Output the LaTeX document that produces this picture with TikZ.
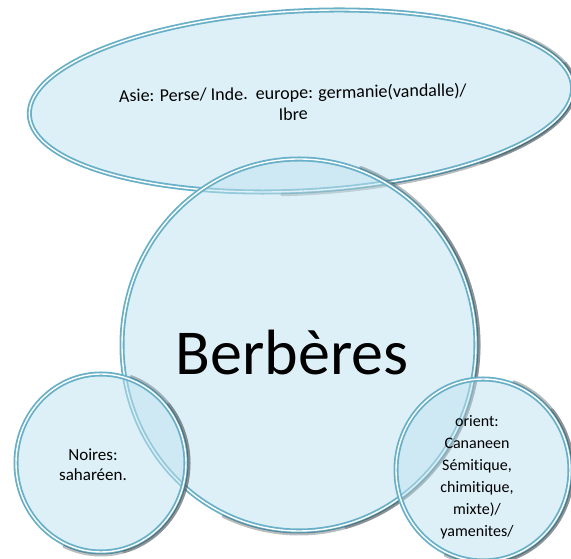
\documentclass[tikz,border=0pt]{standalone}
\usepackage{fontspec}
\setmainfont{Carlito}[Ligatures=NoCommon]
\usetikzlibrary{shapes.geometric}
\definecolor{BubbleFill}{RGB}{190,226,239}
\definecolor{BubbleEdge}{RGB}{104,176,199}
\definecolor{BubbleShade}{RGB}{60,68,72}

\tikzset{
  bubble/.style={ellipse,inner sep=0pt,fill=BubbleFill,fill opacity=0.5,
    draw=BubbleEdge,line width=1.8pt,double=white,double distance=1.4pt},
  bubshade/.style={draw=BubbleShade,line width=3pt,draw opacity=0.35,line cap=round},
  bubtext/.style={align=center,text=black}
}

\begin{document}
\begin{tikzpicture}[x=1pt,y=1pt]
\useasboundingbox (0,0) rectangle (571,559);
\clip (0,0) rectangle (571,559);

% bulle du haut
\node[bubble,minimum width=544pt,minimum height=180pt,rotate=3] (asie) at (301,458) {};
\begin{scope}[shift={(asie.center)},rotate=3]
\draw[bubshade] (40:275 and 93) arc[start angle=40,end angle=-95,x radius=275,y radius=93];
\draw[bubshade] (15:275 and 93) arc[start angle=15,end angle=-50,x radius=275,y radius=93];
\end{scope}

% bulle centrale
\node[bubble,minimum width=354pt,minimum height=372pt] (berb) at (299,214) {};
\draw[bubshade] ([shift={(70:180 and 189)}]berb.center)
  arc[start angle=70,end angle=-115,x radius=180,y radius=189];
\draw[bubshade] ([shift={(40:180 and 189)}]berb.center)
  arc[start angle=40,end angle=-75,x radius=180,y radius=189];

% bulle de gauche
\node[bubble,minimum width=170pt,minimum height=178pt] (noires) at (101,96) {};
\draw[bubshade] ([shift={(70:88 and 92)}]noires.center)
  arc[start angle=70,end angle=-115,x radius=88,y radius=92];
\draw[bubshade] ([shift={(40:88 and 92)}]noires.center)
  arc[start angle=40,end angle=-75,x radius=88,y radius=92];

% bulle de droite
\node[bubble,minimum width=174pt,minimum height=182pt] (orient) at (483,89) {};
\draw[bubshade] ([shift={(70:90 and 94)}]orient.center)
  arc[start angle=70,end angle=-115,x radius=90,y radius=94];
\draw[bubshade] ([shift={(40:90 and 94)}]orient.center)
  arc[start angle=40,end angle=-75,x radius=90,y radius=94];

% textes
\node[bubtext,rotate=1,font=\fontsize{18}{21}\selectfont] (asietxt) at (293,456)
  {Asie: Perse/ Inde.\ \ europe: germanie(vandalle)/\\Ibre};
\node[anchor=base,font=\fontsize{64}{77}\selectfont] (berbtxt) at (292,184) {Berbères};
\node[bubtext,font=\fontsize{17}{20}\selectfont] (noirestxt) at (93,94) {Noires:\\saharéen.};
\node[bubtext,font=\fontsize{16}{22}\selectfont] (orienttxt) at (477,82)
  {orient:\\Cananeen\\Sémitique,\\chimitique,\\mixte)/\\yamenites/};

\end{tikzpicture}
\end{document}
